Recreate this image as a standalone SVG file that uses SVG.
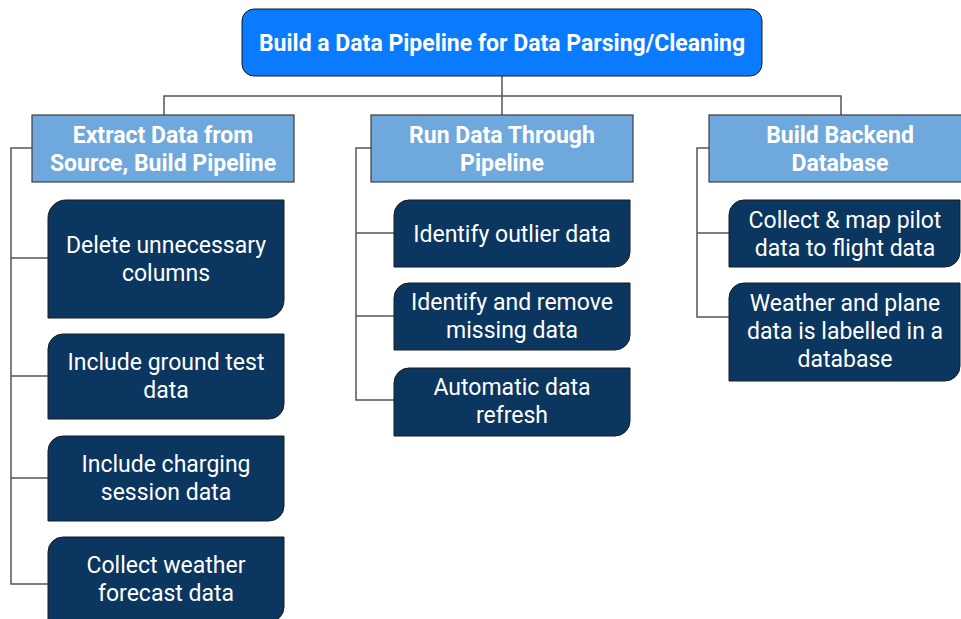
<svg xmlns="http://www.w3.org/2000/svg" width="961" height="619" viewBox="0 0 961 619">
<style>
.root{fill:#0A7AFF;stroke:#1a1a1a;stroke-width:1}
.cat{fill:#6FA8DC;stroke:#3d3d3d;stroke-width:1.2}
.leaf{fill:#0B365F;stroke:#1a1a1a;stroke-width:1}
.tb{font-family:Roboto,"Liberation Sans",sans-serif;font-weight:bold;font-size:23px;fill:#ffffff;text-anchor:middle}
.tr{font-family:Roboto,"Liberation Sans",sans-serif;font-size:23px;fill:#ffffff;text-anchor:middle}
.conn{fill:none;stroke:#555555;stroke-width:1.5}
</style>
<rect width="961" height="619" fill="#ffffff"/>
<g id="connectors">
<path class="conn" d="M502,76 V96 M164,115 V96 H841 V115 M502,96 V115"/>
<path class="conn" d="M32,148 H11 V584 H48 M11,258 H48 M11,376 H48 M11,478 H48"/>
<path class="conn" d="M371,148 H356 V400 H394 M356,233 H394 M356,316 H394"/>
<path class="conn" d="M709,148 H697 V317 H729 M697,233 H729"/>
</g>
<g id="root">
<rect class="root" x="242" y="9" width="520" height="67" rx="12"/>
<text class="tb" x="502" y="51">Build a Data Pipeline for Data Parsing/Cleaning</text>
</g>
<g id="cat-extract">
<rect class="cat" x="32" y="115" width="262" height="67"/>
<text class="tb" x="163" y="143">Extract Data from</text>
<text class="tb" x="163" y="171">Source, Build Pipeline</text>
</g>
<g id="cat-run">
<rect class="cat" x="371" y="115" width="262" height="67"/>
<text class="tb" x="502" y="143">Run Data Through</text>
<text class="tb" x="502" y="171">Pipeline</text>
</g>
<g id="cat-backend">
<rect class="cat" x="709" y="115" width="262" height="67"/>
<text class="tb" x="840" y="143">Build Backend</text>
<text class="tb" x="840" y="171">Database</text>
</g>
<g id="leaf-delete">
<path class="leaf" d="M66,200 H284 V300 A18,18 0 0 1 266,318 H48 V218 A18,18 0 0 1 66,200 Z"/>
<text class="tr" x="166" y="253">Delete unnecessary</text>
<text class="tr" x="166" y="281">columns</text>
</g>
<g id="leaf-ground">
<path class="leaf" d="M63,334 H284 V404 A15,15 0 0 1 269,419 H48 V349 A15,15 0 0 1 63,334 Z"/>
<text class="tr" x="166" y="370">Include ground test</text>
<text class="tr" x="166" y="398">data</text>
</g>
<g id="leaf-charging">
<path class="leaf" d="M63,436 H284 V506 A15,15 0 0 1 269,521 H48 V451 A15,15 0 0 1 63,436 Z"/>
<text class="tr" x="166" y="472">Include charging</text>
<text class="tr" x="166" y="500">session data</text>
</g>
<g id="leaf-weather">
<path class="leaf" d="M63,537 H284 V607 A15,15 0 0 1 269,622 H48 V552 A15,15 0 0 1 63,537 Z"/>
<text class="tr" x="166" y="573">Collect weather</text>
<text class="tr" x="166" y="601">forecast data</text>
</g>
<g id="leaf-outlier">
<path class="leaf" d="M409,200 H630 V252 A15,15 0 0 1 615,267 H394 V215 A15,15 0 0 1 409,200 Z"/>
<text class="tr" x="512" y="242">Identify outlier data</text>
</g>
<g id="leaf-missing">
<path class="leaf" d="M409,283 H630 V335 A15,15 0 0 1 615,350 H394 V298 A15,15 0 0 1 409,283 Z"/>
<text class="tr" x="512" y="310">Identify and remove</text>
<text class="tr" x="512" y="338">missing data</text>
</g>
<g id="leaf-refresh">
<path class="leaf" d="M409,368 H630 V421 A15,15 0 0 1 615,436 H394 V383 A15,15 0 0 1 409,368 Z"/>
<text class="tr" x="512" y="395">Automatic data</text>
<text class="tr" x="512" y="423">refresh</text>
</g>
<g id="leaf-pilot">
<path class="leaf" d="M744,200 H960 V252 A15,15 0 0 1 945,267 H729 V215 A15,15 0 0 1 744,200 Z"/>
<text class="tr" x="845" y="228">Collect &amp; map pilot</text>
<text class="tr" x="845" y="256">data to flight data</text>
</g>
<g id="leaf-labelled">
<path class="leaf" d="M744,283 H960 V366 A15,15 0 0 1 945,381 H729 V298 A15,15 0 0 1 744,283 Z"/>
<text class="tr" x="845" y="311">Weather and plane</text>
<text class="tr" x="845" y="339">data is labelled in a</text>
<text class="tr" x="845" y="367">database</text>
</g>
</svg>
